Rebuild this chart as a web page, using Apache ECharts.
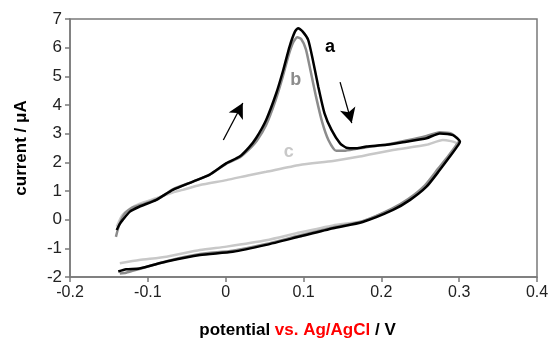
<!DOCTYPE html>
<html>
<head>
<meta charset="utf-8">
<script src="https://cdn.jsdelivr.net/npm/echarts@6/dist/echarts.min.js"></script>
<style>
  html, body { margin: 0; padding: 0; background: #fff; }
  #chart { width: 549px; height: 340px; }
</style>
</head>
<body>
<div id="chart"></div>
<script>
// curve a (black)
const potA = [-0.140, -0.136, -0.132, -0.123, -0.111, -0.089, -0.068, -0.042, -0.021, 0.001, 0.018, 0.030, 0.039, 0.052, 0.065, 0.074, 0.082, 0.089, 0.093, 0.099, 0.106, 0.112, 0.119, 0.127, 0.136, 0.147, 0.155, 0.168, 0.181, 0.207, 0.232, 0.258, 0.275, 0.292, 0.301,
  0.299, 0.288, 0.275, 0.258, 0.237, 0.215, 0.176, 0.138, 0.095, 0.052, 0.009, -0.033, -0.076, -0.111, -0.128, -0.138]
const curA = [-0.36, -0.15, 0.00, 0.28, 0.45, 0.69, 1.04, 1.33, 1.56, 1.97, 2.20, 2.52, 2.84, 3.48, 4.41, 5.22, 6.03, 6.56, 6.68, 6.56, 6.27, 5.57, 4.64, 3.71, 3.13, 2.66, 2.51, 2.49, 2.55, 2.61, 2.72, 2.84, 3.01, 2.95, 2.72,
  2.61, 2.20, 1.73, 1.15, 0.69, 0.34, -0.08, -0.30, -0.59, -0.88, -1.12, -1.23, -1.46, -1.70, -1.73, -1.81]

// curve b (grey)
const potB = [-0.141, -0.137, -0.130, -0.120, -0.105, -0.085, -0.068, -0.042, -0.021, 0.001, 0.018, 0.030, 0.040, 0.052, 0.064, 0.073, 0.081, 0.087, 0.092, 0.097, 0.103, 0.109, 0.116, 0.124, 0.132, 0.142, 0.152, 0.168, 0.181, 0.207, 0.232, 0.258, 0.275, 0.290, 0.300,
  0.297, 0.286, 0.273, 0.256, 0.235, 0.213, 0.176, 0.138, 0.095, 0.052, 0.009, -0.033, -0.076, -0.111, -0.128, -0.136]
const curB = [-0.60, -0.20, 0.20, 0.42, 0.55, 0.75, 1.06, 1.33, 1.56, 1.95, 2.17, 2.45, 2.75, 3.30, 4.15, 4.95, 5.75, 6.20, 6.36, 6.30, 5.95, 5.20, 4.30, 3.40, 2.78, 2.40, 2.40, 2.47, 2.53, 2.62, 2.76, 2.92, 3.05, 3.00, 2.75,
  2.62, 2.22, 1.78, 1.20, 0.73, 0.38, -0.05, -0.27, -0.55, -0.85, -1.08, -1.20, -1.45, -1.72, -1.85, -1.88]

// curve c (light grey)
const potC = [-0.140, -0.133, -0.123, -0.111, -0.089, -0.068, -0.055, -0.033, 0.001, 0.030, 0.052, 0.095, 0.138, 0.172, 0.215, 0.258, 0.279, 0.297,
  0.292, 0.280, 0.266, 0.250, 0.230, 0.205, 0.176, 0.138, 0.095, 0.052, 0.001, -0.033, -0.076, -0.111, -0.136]
const curC = [-0.25, 0.15, 0.38, 0.55, 0.75, 0.95, 1.04, 1.21, 1.38, 1.55, 1.67, 1.91, 2.05, 2.20, 2.43, 2.61, 2.78, 2.66,
  2.35, 1.95, 1.45, 1.00, 0.60, 0.25, -0.05, -0.20, -0.45, -0.72, -0.94, -1.06, -1.29, -1.41, -1.52]

// curve labels [potential, current]
const labelA = [0.134, 6.02]
const labelB = [0.090, 4.87]
const labelC = [0.081, 2.36]

// scan direction arrows [from, to]
const arrowUp = [[-0.003, 2.78], [0.022, 4.07]]
const arrowDown = [[0.147, 4.80], [0.162, 3.37]]

const zip = (xs, ys) => xs.map((x, i) => [x, ys[i]])

const chart = echarts.init(document.getElementById('chart'), null, { renderer: 'canvas' })

const axisColor = '#7a7a7a'
const font = '"Liberation Sans", Arial, sans-serif'

function curve(name, xs, ys, color, label) {
  return {
    name,
    type: 'line',
    data: zip(xs, ys),
    showSymbol: false,
    smooth: 0.2,
    lineStyle: { color, width: 2.5 },
    silent: true,
    markPoint: {
      symbol: 'circle',
      symbolSize: 0,
      label: {
        show: true,
        formatter: name,
        color,
        fontFamily: font,
        fontWeight: 'bold',
        fontSize: 18,
      },
      data: [{ coord: label }]
    }
  }
}

chart.setOption({
  animation: false,
  grid: {
    left: 70,
    top: 19,
    right: 12,
    bottom: 63,
    containLabel: false,
    outerBoundsMode: 'none',
    show: true,
    borderColor: axisColor,
    borderWidth: 1.5,
  },
  xAxis: {
    type: 'value',
    min: -0.2,
    max: 0.4,
    interval: 0.1,
    name: '{b|potential }{r|vs. Ag/AgCl}{b| / V}',
    nameLocation: 'middle',
    nameGap: 45,
    nameTextStyle: {
      padding: [0, 12, 0, 0],
      rich: {
        b: { fontFamily: font, fontWeight: 'bold', fontSize: 17, color: '#000' },
        r: { fontFamily: font, fontWeight: 'bold', fontSize: 17, color: '#ff0000' },
      }
    },
    axisLine: { onZero: false, lineStyle: { color: axisColor, width: 1.5 } },
    axisTick: { show: true, length: 5, lineStyle: { color: axisColor, width: 1.5 } },
    axisLabel: {
      fontFamily: font, fontSize: 16, color: '#222', margin: 8,
      formatter: v => String(Math.round(v * 10) / 10)
    },
    splitLine: { show: false },
  },
  yAxis: {
    type: 'value',
    min: -2,
    max: 7,
    interval: 1,
    name: 'current / μA',
    nameLocation: 'middle',
    nameRotate: 90,
    nameGap: 40,
    nameTextStyle: { fontFamily: font, fontWeight: 'bold', fontSize: 17, color: '#000' },
    axisLine: { show: true, onZero: false, lineStyle: { color: axisColor, width: 1.5 } },
    axisTick: { show: true, length: 5, lineStyle: { color: axisColor, width: 1.5 } },
    axisLabel: { fontFamily: font, fontSize: 17, color: '#222', margin: 8 },
    splitLine: { show: false },
  },
  series: [
    curve('c', potC, curC, '#c8c8c8', labelC),
    curve('b', potB, curB, '#8c8c8c', labelB),
    Object.assign(curve('a', potA, curA, '#000000', labelA), {
      markLine: {
        silent: true,
        symbol: ['none', 'arrow'],
        symbolSize: [12, 15],
        label: { show: false },
        lineStyle: { color: '#000', width: 1.3, type: 'solid' },
        data: [
          [{ coord: arrowUp[0] }, { coord: arrowUp[1] }],
          [{ coord: arrowDown[0] }, { coord: arrowDown[1] }],
        ]
      }
    }),
  ]
})
</script>
</body>
</html>
